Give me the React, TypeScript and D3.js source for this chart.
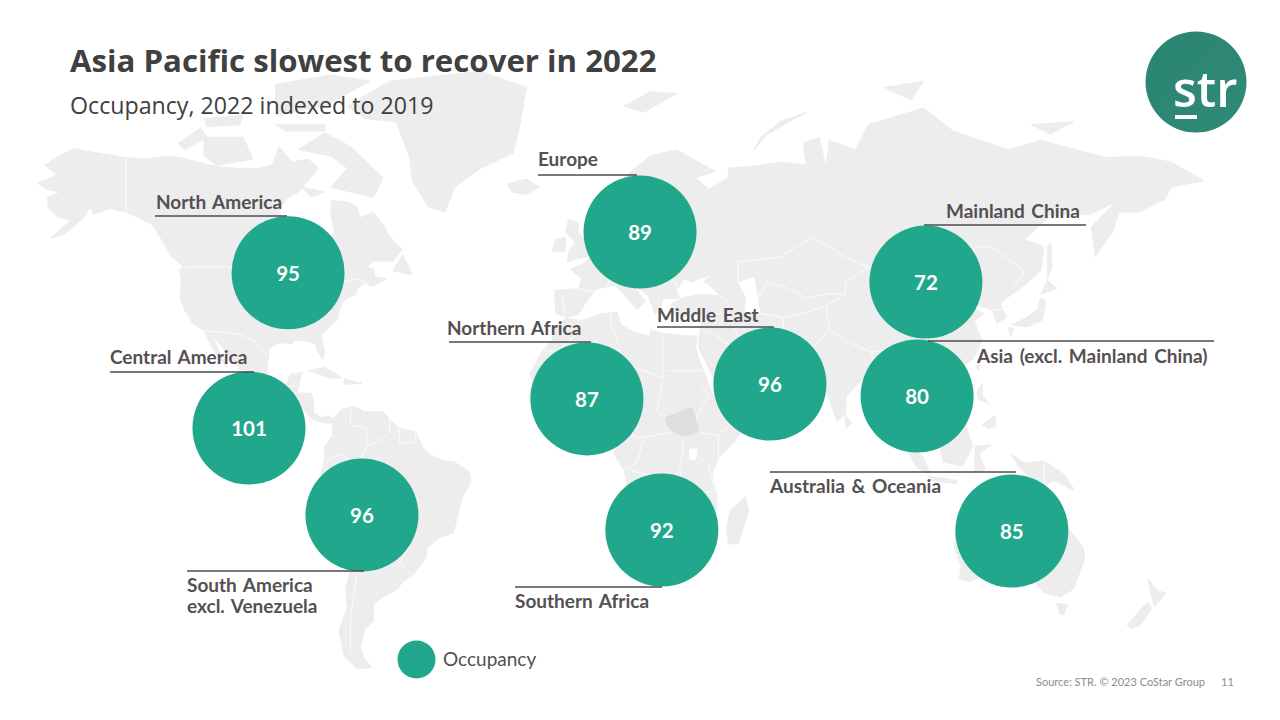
import * as d3 from "d3";

// region data
const regions = ["North America", "Europe", "Mainland China", "Northern Africa", "Middle East", "Asia (excl. Mainland China)", "Central America", "South America|excl. Venezuela", "Southern Africa", "Australia & Oceania"];
const occupancyIndex = [95, 89, 72, 87, 96, 80, 101, 96, 92, 85];
// bubble anchors, lon / lat
const bubbleLon = [-91.2, 16.9, 104.7, 0.6, 56.8, 102, -103.2, -68.5, 23.6, 131.1];
const bubbleLat = [47.5, 56, 45.1, 14.2, 18.3, 15, 6.1, -17.1, -21.2, -21.5];

// label layout, picture px: rule x1, x2, y, text x, text baseline
const ruleX1 = [155, 538, 924, 449, 657, 928, 110, 187, 515, 770];
const ruleX2 = [287, 637, 1086, 591, 774, 1214, 254, 364, 662, 1016];
const ruleY = [216, 175, 225, 342, 327, 341, 372, 571, 587, 472];
const labelX = [156, 538, 946, 447, 657, 977, 110, 187, 515, 770];
const labelY = [209, 166, 218, 335, 322, 363, 364, 592, 608, 493];

// land outlines, lon / lat
const land: [number, number][][] = [
  // north america
  [[-168,65.6],[-164,66.5],[-162,67],[-166,68.5],[-163,69.5],[-157,71.2],[-150,70.5],[-141,69.7],[-135,69.5],[-128,70],[-124,69.7],[-115,68.5],[-108,68],[-100,68],[-96,68.5],[-94,71.5],[-90,69],[-85,69.5],[-82,68],[-85,66],[-88,64],[-92,62.5],[-94,60],[-93,58.7],[-89,57],[-85,55.3],[-82,55],[-82,53],[-80,51.3],[-79,52],[-79,54.5],[-77,56],[-78,59],[-78,62.3],[-73,62],[-70,61],[-69,58.8],[-65,60],[-62,57.5],[-60,55],[-56,52.5],[-59,50.2],[-65,50.2],[-67,49],[-65,48.5],[-64.5,46.5],[-61,46],[-64,44.5],[-66,44],[-67,45],[-70,43.5],[-70.5,42],[-74,40.5],[-75.5,38],[-76,35.5],[-78,34],[-81,31.5],[-80,27],[-80.5,25.2],[-82,27],[-83,29.2],[-85,29.7],[-89,30.2],[-90,29.2],[-94,29.5],[-97,28],[-97.5,24],[-97.5,21.5],[-95,18.5],[-91.5,18.5],[-90.5,21],[-87,21.5],[-88,17],[-88.5,15.8],[-84,15.8],[-83.3,13],[-83.5,10.5],[-81,9],[-79,9.5],[-77.3,8.7],[-78,7.5],[-80,7.5],[-83,8.3],[-85.5,10],[-87.5,13],[-91,14],[-94,16],[-97,15.8],[-101,17.3],[-105,19.5],[-105.5,22],[-109,25.5],[-112.5,29.5],[-114.7,31.7],[-112,26.5],[-110,23],[-112,25],[-115,29],[-117,32.5],[-120.5,34.5],[-123,38],[-124.3,41],[-124,46],[-124.5,48.4],[-123,49],[-127,51],[-130,54.5],[-133,57.5],[-137,58.8],[-141,60],[-146,60.7],[-151,59.5],[-152,61],[-154,58.8],[-160,55.5],[-164,54.8],[-158,58.3],[-162,59],[-165,61],[-165,63],[-161,64],[-165,64.5]],
  // arctic canada
  [[-80,73.7],[-72,71.5],[-67,69],[-62,66.5],[-65,63],[-72,64],[-78,65],[-73,68],[-78,70],[-88,71]],
  [[-117,73],[-105,73],[-102,69.5],[-113,68.5],[-117,70]],
  [[-95,76.5],[-80,78],[-66,82],[-78,83],[-95,81.5]],
  [[-95,75],[-80,75],[-80,74],[-92,74]],
  [[-125,72],[-118,74.5],[-116,73],[-123,71]],
  [[-117,76],[-105,76.5],[-106,75],[-116,74.7]],
  [[-87,65],[-80,64],[-84,63]],
  [[-59,48],[-56,51.5],[-53,47]],
  // greenland, iceland
  [[-73,78],[-60,82],[-32,83.6],[-18,81],[-20,75],[-22,70.5],[-32,68],[-40,65],[-43,60],[-48,61],[-53,66],[-54,70],[-58,75.5],[-68,76]],
  [[-24,65.5],[-18,66.3],[-14,65],[-18,63.5],[-22.5,64]],
  // caribbean
  [[-85,22],[-80,23],[-74.5,20],[-78,20]],
  [[-74,19.8],[-68.5,18.5],[-74,18.2]],
  // south america
  [[-77.3,8.7],[-75,11],[-72,12],[-70,11.8],[-68,10.7],[-62,10.7],[-60,8.5],[-57,6],[-52,5],[-50,1],[-48,-1],[-44,-2.5],[-40,-3],[-35.5,-5.5],[-35,-8],[-37.5,-12],[-39,-17],[-40.5,-22],[-45,-23.5],[-48.5,-26],[-49,-29],[-53,-33.5],[-56,-35],[-57.5,-37],[-62,-39],[-65,-41],[-65,-45],[-67.5,-46.5],[-69,-50.5],[-68,-53],[-65.5,-55],[-70,-55.3],[-74,-52.5],[-75.5,-47],[-73,-42],[-73.5,-37],[-71.5,-30],[-70.3,-19],[-76,-14],[-81,-6],[-80,-2],[-80,1],[-77.5,4],[-77.5,7]],
  // africa
  [[-6,35.8],[-1,35.2],[5,36.9],[10,37.3],[11,34],[15,32.3],[20,31],[20,32.7],[25,31.8],[32,31.2],[34.3,31.3],[34,28],[35.5,24],[37.3,20],[39,15.5],[43,12],[44,10.5],[51,11.8],[50,8],[46,2.5],[41,-2],[39,-6],[40.5,-12],[40.5,-15.5],[35,-20],[35.5,-24],[32.8,-26],[32,-29],[28,-33],[22,-34.3],[18.5,-34.3],[18,-31],[15,-26],[14.3,-22],[11.8,-17],[13.5,-11],[12,-5],[9,-1],[9.7,3.5],[6,4.3],[3,6.3],[-2,5],[-7.5,4.5],[-13,8.5],[-16.5,12.5],[-17.3,14.8],[-16,19],[-17,21],[-13,27.5],[-10,30],[-9.5,33]],
  [[49.3,-12],[50.3,-16],[47,-25],[44,-25],[43.5,-21],[44.5,-16]],
  // eurasia
  [[-9,37],[-9.3,43],[-2,43.4],[-1,46],[-4.5,48.4],[-1,49.5],[2,51],[4,52],[7,53.5],[8.5,57],[10.5,57.5],[10,54.5],[14,54],[19,54.5],[21,57],[24,57.5],[24,59.3],[30,60],[23,60],[21.5,61],[25,65.5],[22,65.8],[17.5,62],[18.5,60],[16.5,56.5],[13,55.5],[11,59],[6,58.2],[5,62],[13,67],[20,70],[28,71],[40,67.5],[34,66.5],[38,64.5],[44,66.5],[44,68],[54,68.5],[60,69],[68,68.5],[67,72],[72,73],[74,68],[75,72.5],[83,71],[87,75],[104,77.7],[113,74],[130,71],[140,72.5],[160,69.7],[170,70],[180,69],[190,66],[180,65],[178,62.5],[170,60],[164,60],[162,56],[156.7,51],[155.5,57],[163,62],[155,59.5],[143,59.3],[135,54.5],[141,53],[140,48],[133,43],[129.5,41],[127.5,39.5],[129.4,36],[126.5,34.5],[125,38],[121,39],[118,39],[122.5,37],[119.5,35],[122,30],[119,25],[114,22.5],[109,21.5],[106,19],[109,13],[105,8.8],[100.5,13.5],[99.5,9],[103.5,1.3],[100.5,6],[98,8],[98,16],[94.5,16],[92,21],[88,22],[85,19.5],[80.3,15],[80,10],[77.5,8],[73,19],[72.5,21],[69,22.3],[67,24.8],[61,25],[57,25.5],[54.5,26.6],[50,30],[48,30],[50,26.5],[51.5,25],[54.5,24],[56.3,26],[59.8,22.5],[55,17],[45,13],[43,13],[39,21],[35,28],[35,31],[36,35.8],[36,36.8],[30,36.2],[27,37],[26.5,39.5],[30,41],[35,42],[41.5,41.5],[38,44.5],[36.5,45.2],[39,47],[35,46],[33,45],[30.5,46],[28,43],[29,41],[24,40.8],[23,38],[21.5,37],[19.5,41.5],[13,45.7],[16,43],[18.5,40],[16,38],[12.5,41.5],[9,44.3],[3.5,43.3],[0,39.5],[-2,36.8],[-5.5,36]],
  // uk, ireland
  [[-5.5,50],[1.5,51.3],[1.5,52.8],[-2,56],[-2,57.7],[-5,58.6],[-6,56],[-3,54],[-5,52]],
  [[-10,52],[-6,52.2],[-6,55],[-9,54.5]],
  // japan and east asia islands
  [[130.9,34],[136,33.6],[140.5,35.3],[141.5,40],[140,41.2],[139,38],[135,35.7]],
  [[140,42],[145,43.5],[142,45.5]],
  [[130,33.5],[131.8,33],[130.7,31]],
  [[142,46],[143.5,49],[143,54],[142,53]],
  [[120,23],[121.5,25.2],[121,22]],
  [[120.3,16],[122,18.5],[122,15],[124,13],[121,14]],
  [[122,7],[126,9.5],[126,6.5],[124,6]],
  [[95.5,5.5],[104,-2],[106,-6],[102,-4.5],[98,1]],
  [[105.5,-6.5],[114.5,-7.7],[114,-8.6],[106,-7.5]],
  [[109,1],[113,3],[117,7],[119,1],[116,-4],[110,-3]],
  [[119.5,-5.5],[120,1],[125,1.5],[121,-1],[123,-5]],
  [[131,-1],[135,-3.3],[141,-2.7],[147,-6],[150.5,-10.5],[144,-7.7],[141,-9],[138,-8],[133,-4]],
  [[80,9.7],[81.8,7.5],[80.5,6],[79.8,8]],
  // australia, nz
  [[114,-22],[122,-18],[126,-14],[130,-12],[136,-12],[136,-15],[140,-17.5],[142,-11],[145,-15],[146.5,-19],[150,-22.5],[153,-26],[153.5,-29],[150,-37],[146,-39],[141,-38],[138,-35],[136,-35],[134,-32.5],[129,-31.7],[124,-33],[118,-35],[115,-34.3],[115.5,-31],[113.5,-26]],
  [[144.8,-40.8],[148.3,-41],[147,-43.5],[146,-43.5]],
  [[173,-34.5],[176,-37.5],[178.5,-38],[175,-41.5],[174,-39]],
  [[172.8,-40.5],[174,-42],[171,-45.5],[168,-46.7],[166.5,-45.8],[170,-43]],
  // russian arctic
  [[52,71],[56,73.5],[68,77],[60,75.5],[54,73]],
  [[12,78],[20,80.3],[28,80],[18,77]],
  [[92,81],[104,82],[100,79]],
  [[137,75],[150,75.5],[143,73.5]],
];

// inland water drawn white
const water: [number, number][][] = [
  [[47,45],[52,46.5],[53,41],[54,37],[49,37.5],[49.5,41]],
  [[32,0.5],[34.5,0.3],[34,-2.5],[32,-2.5]],
  [[-92,47],[-85,48.5],[-84.5,46.5],[-88,46.5]],
  [[-88,45.5],[-85,46],[-86.5,42],[-87.7,42]],
  [[-84,46],[-80,45.5],[-81.5,43],[-83.5,43.5]],
  [[-83,42],[-76,44],[-76,43.3],[-79.5,43]],
];

// the one country with a darker tone
const southSudan: [number, number][] = [[24.5,9],[27,10],[33,12],[34,9],[35,5],[30,3.7],[27,5],[25,7]];

// white borders
const borders: [number, number][][] = [
  [[-141,69.7],[-141,60]],
  [[-123,49],[-95,49],[-89,48],[-83,46],[-82,43],[-79,43],[-75,45],[-70,46],[-67,45]],
  [[-117,32.5],[-106.5,31.8],[-101,29.5],[-97.3,26]],
  [[-92,14.5],[-91,17.5],[-89,18]],
  [[-72,12],[-72,7],[-67,6],[-67,1],[-70,-4],[-74,-8],[-70,-11],[-69,-17],[-58,-20],[-54,-26],[-57,-30],[-53,-33.5]],
  [[-80,-3],[-75,-1],[-70,-4]],
  [[-60,8.5],[-60,5],[-64,2],[-67,1]],
  [[-57,6],[-57,2],[-52,2],[-52,5]],
  [[-70.3,-19],[-68,-24],[-70,-33],[-72,-44],[-72,-52]],
  [[-69,-17],[-65,-22],[-58,-20]],
  [[-2,35],[-2,32],[-9,27],[-13,27.5]],
  [[-9,27],[-5,25],[3,19],[12,23.5],[10,30],[8,34],[8,37]],
  [[12,23.5],[15,23],[24,20],[24,31]],
  [[25,22],[37,22]],
  [[24,20],[23,15],[22,11],[24.5,9]],
  [[15,23],[14,13],[14,10],[9,5]],
  [[14,13],[3,12],[3,6.3]],
  [[3,19],[3,12]],
  [[-5,25],[-5,15],[-12,15],[-16.5,16]],
  [[-5,15],[-3,10],[-8,8],[-8,4.5]],
  [[-3,10],[0,11],[0,6]],
  [[34,9],[38,15],[36,18]],
  [[35,5],[41,4],[46,8],[43,11]],
  [[30,3.7],[30,-1],[29,-5],[30,-8],[33,-11],[35,-17]],
  [[41,-2],[41,4]],
  [[34,-1],[38,-4],[40,-10.5],[35,-11.5]],
  [[14,-5],[22,-7],[24,-11],[30,-8]],
  [[12,-17],[24,-18],[25,-25],[20,-25],[20,-29],[17,-29]],
  [[24,-18],[30,-16],[33,-19],[32,-26]],
  [[14,4],[18,3.5],[27,5]],
  [[18,3.5],[16,-3],[12,-5]],
  [[-6,36],[-7,42]],
  [[-2,43.4],[3,42.5]],
  [[3,51],[8,49],[7,44]],
  [[8,48],[13,48],[17,48],[22,48],[28,45],[28,43]],
  [[14,54],[15,51],[23,50],[24,54],[28,56]],
  [[47,50],[60,51],[70,55],[80,51],[87,49]],
  [[47,45],[47,50]],
  [[53,41],[56,45],[61,44],[68,41],[74,42],[80,42]],
  [[54,37],[61,36],[67,37],[74,39]],
  [[74,39],[80,42],[80,45],[87,49],[96,43],[105,42],[112,45],[117,50],[120,53],[125,53],[135,48],[131,43]],
  [[74,39],[75,33],[80,30],[88,27],[97,28],[98,24],[101,21],[106,23],[108,21.5]],
  [[61,25],[61,30],[61,36]],
  [[67,24.8],[70,28],[75,33]],
  [[36,36.8],[44,37],[46,33],[48,30]],
  [[44,37],[44,40],[41.5,41.5]],
  [[39,32],[36,33]],
  [[39,32],[44,29],[48,29]],
  [[43,16],[52,19],[55,22],[56,25]],
  [[88,27],[89,22]],
  [[92,21],[95,28]],
  [[98,16],[100,20]],
  [[101,21],[105,18],[107,15],[103,11]],
  [[125,38],[129,38]],
  [[141,-2.7],[141,-9]],
];

// lon to px is close to linear, lat follows the picture's stretched north
const xScale = d3.scaleLinear().domain([-180, 180]).range([-1.08, 1171.08]);
const yScale = d3
  .scaleLinear()
  .domain([-56, -43, -28.6, -7, 0, 25, 49, 65, 83])
  .range([672, 612, 557, 478, 450, 360, 267, 187, 75]);

const toPx = d3.geoTransform({
  point(lon: number, lat: number) {
    this.stream.point(xScale(lon), yScale(lat));
  },
});
const geoPath = d3.geoPath(toPx);

const polygonPath = (ring: [number, number][]) =>
  geoPath({ type: "Polygon", coordinates: [[...ring, ring[0]]] } as any) ?? "";
const linePath = (coords: [number, number][]) =>
  geoPath({ type: "LineString", coordinates: coords } as any) ?? "";

const GREEN = "#21A88C";
const LAND = "#EDEDED";
const LABEL = "#555053";
const SANS = "'Open Sans', sans-serif";
const LABEL_FONT = "Lato, sans-serif";
const R = 56.5;

export default function App() {
  return (
    <svg
      width={1280}
      height={720}
      viewBox="0 0 1280 720"
      style={{ position: "absolute", left: 0, top: 0, background: "#fff" }}
    >
      <defs>
        <linearGradient id="logoFill" x1="0" y1="0" x2="1" y2="1">
          <stop offset="0" stopColor="#2A8472" />
          <stop offset="1" stopColor="#2F8A76" />
        </linearGradient>
      </defs>

      {/* map */}
      <g fill={LAND} stroke={LAND} strokeWidth={1} strokeLinejoin="round">
        {land.map((ring, i) => (
          <path key={i} d={polygonPath(ring)} />
        ))}
      </g>
      <path d={polygonPath(southSudan)} fill="#DEDEDE" />
      <g fill="#fff">
        {water.map((ring, i) => (
          <path key={i} d={polygonPath(ring)} />
        ))}
      </g>
      <g fill="none" stroke="#fff" strokeWidth={0.8}>
        {borders.map((b, i) => (
          <path key={i} d={linePath(b)} />
        ))}
      </g>

      {/* title */}
      <text x={70} y={72} fontFamily={SANS} fontWeight={700} fontSize={31.2} fill="#404040">
        Asia Pacific slowest to recover in 2022
      </text>
      <text x={70} y={114} fontFamily={SANS} fontSize={23.2} fill="#404040">
        Occupancy, 2022 indexed to 2019
      </text>

      {/* logo */}
      <circle cx={1196} cy={82} r={50.5} fill="url(#logoFill)" />
      <text x={1173} y={107} fontFamily={SANS} fontSize={49} fontWeight={600} fill="#fff">
        str
      </text>
      <rect x={1175} y={115} width={22} height={4} fill="#fff" />

      {/* regions */}
      {regions.map((name, i) => (
        <g key={name}>
          <circle cx={xScale(bubbleLon[i])} cy={yScale(bubbleLat[i])} r={R} fill={GREEN} />
          <line x1={ruleX1[i]} x2={ruleX2[i]} y1={ruleY[i]} y2={ruleY[i]} stroke="#4D4D4D" strokeWidth={1.5} />
          {name.split("|").map((part, j) => (
            <text
              key={j}
              x={labelX[i]}
              y={labelY[i] + j * 21}
              fontFamily={LABEL_FONT}
              fontWeight={700}
              fontSize={19}
              wordSpacing={2}
              fill={LABEL}
            >
              {part}
            </text>
          ))}
          <text
            x={xScale(bubbleLon[i])}
            y={yScale(bubbleLat[i]) + 8}
            textAnchor="middle"
            fontFamily={LABEL_FONT}
            fontWeight={700}
            fontSize={20.5}
            fill="#fff"
          >
            {occupancyIndex[i]}
          </text>
        </g>
      ))}

      {/* legend */}
      <circle cx={416.5} cy={659.5} r={19} fill={GREEN} />
      <text x={443} y={666} fontFamily={LABEL_FONT} fontSize={19} fill="#505050">
        Occupancy
      </text>

      {/* footer */}
      <text x={1036} y={686} fontFamily={LABEL_FONT} fontSize={11} fill="#8C8C8C">
        Source: STR. © 2023 CoStar Group
      </text>
      <text x={1221} y={686} fontFamily={LABEL_FONT} fontSize={11} fill="#8C8C8C">
        11
      </text>
    </svg>
  );
}
